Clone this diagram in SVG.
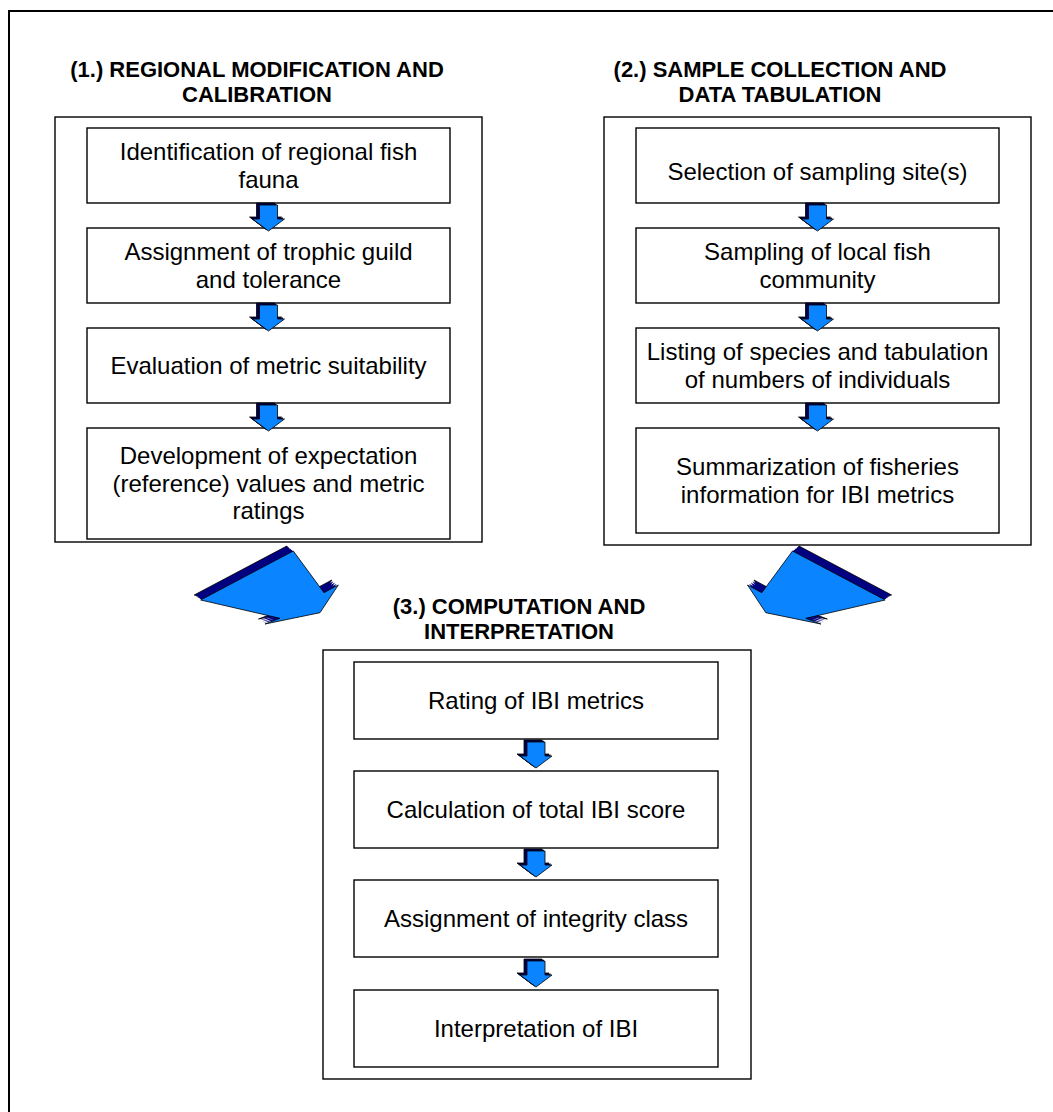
<svg xmlns="http://www.w3.org/2000/svg" xmlns:xlink="http://www.w3.org/1999/xlink" width="1053" height="1112" viewBox="0 0 1053 1112">
<defs>
<style>
.frame{fill:none;stroke:#000;stroke-width:2}
.outer{fill:#fff;stroke:#000;stroke-width:1.4}
.box{fill:#fff;stroke:#000;stroke-width:1.4}
.t{font-family:"Liberation Sans",Arial,sans-serif;font-size:24px;fill:#000;text-anchor:middle}
.h{font-family:"Liberation Sans",Arial,sans-serif;font-size:22px;font-weight:bold;fill:#000;text-anchor:middle}
.blue{fill:#0A84FF;stroke:#000;stroke-width:0.8;stroke-linejoin:round}
.navy{fill:#000080;stroke:#000;stroke-width:0.8;stroke-linejoin:round}
</style>
<polygon id="sa" points="-9,0 9,0 9,14 16,14 0,26 -16,14 -9,14"/>
<polygon id="ba" points="200.7,600 293.3,551 324,592.7 338.3,585 320,612.7 265,624 280,618.3"/>
<g id="small">
<use xlink:href="#sa" class="navy" transform="translate(-3,-2)"/>
<use xlink:href="#sa" class="navy" transform="translate(-1.5,-1)"/>
<use xlink:href="#sa" class="blue"/>
</g>
<g id="big">
<use xlink:href="#ba" class="navy" transform="translate(-6.5,-5)"/>
<use xlink:href="#ba" class="navy" transform="translate(-4.9,-3.75)" style="stroke:none"/>
<use xlink:href="#ba" class="navy" transform="translate(-3.25,-2.5)" style="stroke:none"/>
<use xlink:href="#ba" class="navy" transform="translate(-1.6,-1.25)" style="stroke:none"/>
<use xlink:href="#ba" class="blue"/>
</g>
</defs>
<rect x="0" y="0" width="1053" height="1112" fill="#fff"/>
<rect class="frame" x="9" y="11" width="1100" height="1150"/>

<g id="panel1">
<text class="h" x="257" y="77">(1.) REGIONAL MODIFICATION AND</text>
<text class="h" x="257" y="102">CALIBRATION</text>
<rect class="outer" x="55" y="117" width="427" height="425"/>
</g>
<g id="n1a"><rect class="box" x="87" y="128" width="363" height="75"/>
<text class="t" x="268.5" y="160"><tspan x="268.5">Identification of regional fish</tspan><tspan x="268.5" dy="27.6">fauna</tspan></text></g>
<g id="n1b"><rect class="box" x="87" y="228" width="363" height="75"/>
<text class="t" x="268.5" y="260"><tspan x="268.5">Assignment of trophic guild</tspan><tspan x="268.5" dy="27.6">and tolerance</tspan></text></g>
<g id="n1c"><rect class="box" x="87" y="328" width="363" height="75"/>
<text class="t" x="268.5" y="374">Evaluation of metric suitability</text></g>
<g id="n1d"><rect class="box" x="87" y="428" width="363" height="111"/>
<text class="t" x="268.5" y="464"><tspan x="268.5">Development of expectation</tspan><tspan x="268.5" dy="27.6">(reference) values and metric</tspan><tspan x="268.5" dy="27.6">ratings</tspan></text></g>

<g id="panel2">
<text class="h" x="780" y="77">(2.) SAMPLE COLLECTION AND</text>
<text class="h" x="780" y="102">DATA TABULATION</text>
<rect class="outer" x="604" y="117" width="427" height="428"/>
</g>
<g id="n2a"><rect class="box" x="636" y="128" width="363" height="75"/>
<text class="t" x="817.5" y="180">Selection of sampling site(s)</text></g>
<g id="n2b"><rect class="box" x="636" y="228" width="363" height="75"/>
<text class="t" x="817.5" y="260"><tspan x="817.5">Sampling of local fish</tspan><tspan x="817.5" dy="27.6">community</tspan></text></g>
<g id="n2c"><rect class="box" x="636" y="328" width="363" height="75"/>
<text class="t" x="817.5" y="360"><tspan x="817.5">Listing of species and tabulation</tspan><tspan x="817.5" dy="27.6">of numbers of individuals</tspan></text></g>
<g id="n2d"><rect class="box" x="636" y="428" width="363" height="105"/>
<text class="t" x="817.5" y="475"><tspan x="817.5">Summarization of fisheries</tspan><tspan x="817.5" dy="27.6">information for IBI metrics</tspan></text></g>

<g id="panel3">
<text class="h" x="519" y="614">(3.) COMPUTATION AND</text>
<text class="h" x="519" y="639">INTERPRETATION</text>
<rect class="outer" x="323" y="650" width="428" height="429"/>
</g>
<g id="n3a"><rect class="box" x="354" y="662" width="364" height="77"/>
<text class="t" x="536" y="709">Rating of IBI metrics</text></g>
<g id="n3b"><rect class="box" x="354" y="771" width="364" height="77"/>
<text class="t" x="536" y="818">Calculation of total IBI score</text></g>
<g id="n3c"><rect class="box" x="354" y="880" width="364" height="77"/>
<text class="t" x="536" y="927">Assignment of integrity class</text></g>
<g id="n3d"><rect class="box" x="354" y="990" width="364" height="77"/>
<text class="t" x="536" y="1037">Interpretation of IBI</text></g>

<g id="connectors">
<use xlink:href="#small" transform="translate(268.5,205)"/>
<use xlink:href="#small" transform="translate(268.5,305)"/>
<use xlink:href="#small" transform="translate(268.5,405)"/>
<use xlink:href="#small" transform="translate(817.5,205)"/>
<use xlink:href="#small" transform="translate(817.5,305)"/>
<use xlink:href="#small" transform="translate(817.5,405)"/>
<use xlink:href="#small" transform="translate(536,742)"/>
<use xlink:href="#small" transform="translate(536,851)"/>
<use xlink:href="#small" transform="translate(536,961)"/>
<use xlink:href="#big"/>
<use xlink:href="#big" transform="translate(1085.8,0) scale(-1,1)"/>
</g>
</svg>
